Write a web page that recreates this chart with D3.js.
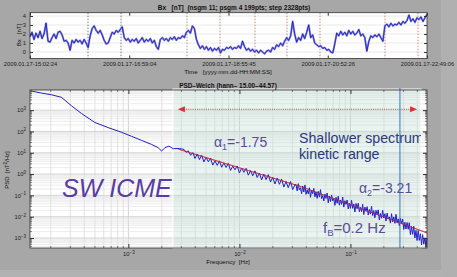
<!DOCTYPE html>
<html>
<head>
<meta charset="utf-8">
<script src="https://cdn.jsdelivr.net/npm/d3@7/dist/d3.min.js"></script>
<style>
  body { margin: 0; background: #a7a7a7; }
  svg { display: block; font-family: "Liberation Sans", Arial, sans-serif; }
  .tick line { stroke: #333; }
  .tick text { fill: #222; font-size: 5.8px; }
</style>
</head>
<body>
<svg id="chart" width="457" height="277"></svg>
<script>
// ---- top panel: Bx time series ----
var bxStart = "2009.01.17-15:02:24";
var bxStepSec = 141.42;   // 199 samples over the interval
var bxTickLabels = ["2009.01.17-15:02:24", "2009.01.17-16:59:04", "2009.01.17-18:55:45",
                    "2009.01.17-20:52:26", "2009.01.17-22:49:06"];
var bxYTicks = [0, 1, 2, 3, 4];
var bxRange = [-0.72, 4.37];
var bxValues = [
  1.7, 2.2, 1.4, 2.1, 1.6, 2.3, 1.5, 2.0, 3.2, 1.2,
  1.1, 1.6, 2.0, 1.5, 2.2, 2.3, 1.9, 1.2, 1.3, 1.0,
  0.2, 1.3, 1.0, 1.4, 1.1, 1.3, 0.9, 1.4, 1.0, 0.5,
  1.8, 2.6, 2.9, 2.4, 2.1, 2.4, 1.9, 1.3, 0.9, 1.0,
  1.6, 2.2, 2.0, 2.4, 2.2, 2.5, 2.8, 1.6, 1.3, 1.5,
  1.1, 1.4, 1.2, 1.5, 1.0, 1.3, 1.6, 1.1, 1.4, 1.2,
  1.5, 1.0, 1.3, 0.6, 0.3, 1.4, 1.6, 1.3, 1.5, 1.2,
  1.6, 1.4, 1.7, 1.3, 1.6, 1.5, 1.8, 1.6, 2.2, 2.4,
  2.1, 2.9, 2.6, 1.4, 0.8, 0.4, 0.7, 0.3, 0.6, 0.2,
  0.5, 0.1, 0.4, 0.2, 0.5, -0.1, 0.3, 0.2, 0.5, 0.4,
  0.6, 0.3, 0.5, 0.4, 0.7, 0.4, 1.2, 0.6, 0.2, 0.4,
  0.1, 0.3, 0.0, 0.2, -0.1, 0.2, 0.0, -0.2, 0.1, 0.2,
  0.0, 0.5, 0.3, 0.8, 0.6, 1.0, 0.7, 1.2, 1.6, 1.3,
  1.8, 3.4, 2.0, 1.1, 1.6, 1.3, 2.0, 1.5, 2.2, 3.0,
  1.6, 1.9, 1.0, 0.8, 0.6, 0.7, 0.4, 0.5, 0.2, 0.3,
  0.0, -0.1, 0.9, 2.1, 1.8, 2.3, 1.9, 2.2, 1.8, 2.4,
  2.0, 2.3, 1.9, 2.1, 2.5, 1.8, 2.0, 1.6, 0.1, 1.2,
  1.8, 1.6, 1.9, 1.7, 2.0, 1.6, 1.2, 2.9, 3.1, 2.8,
  3.2, 2.9, 3.1, 3.0, 3.3, 3.0, 3.4, 3.2, 3.5, 4.1,
  3.4, 3.7, 3.3, 3.8, 3.6, 3.9, 3.4, 3.8, 4.2
];
var markerDark = ["2009.01.17-16:10:35", "2009.01.17-16:49:23"];
var markerRed = ["2009.01.17-18:06:58", "2009.01.17-18:45:46", "2009.01.17-19:26:54",
                 "2009.01.17-20:04:30", "2009.01.17-20:43:18", "2009.01.17-21:59:42",
                 "2009.01.17-22:38:30"];

// ---- bottom panel: Welch PSD, log10 of frequency [Hz] and of power [nT^2/Hz] ----
var psdFreqExp = [
  -3.887, -3.782, -3.692, -3.602, -3.512, -3.422, -3.302, -3.182, -3.061, -2.971,
  -2.881, -2.791, -2.732, -2.701, -2.671, -2.635, -2.596,
  -2.54, -2.52, -2.50, -2.48, -2.46, -2.44, -2.42, -2.40, -2.38, -2.36,
  -2.34, -2.32, -2.30, -2.28, -2.26, -2.24, -2.22, -2.20, -2.18, -2.16,
  -2.14, -2.12, -2.10, -2.08, -2.06, -2.04, -2.02, -2.00, -1.98, -1.96,
  -1.94, -1.92, -1.90, -1.88, -1.86, -1.84, -1.82, -1.80, -1.78, -1.76,
  -1.74, -1.72, -1.70, -1.68, -1.66, -1.64, -1.62, -1.60, -1.58, -1.56,
  -1.54, -1.52, -1.50,
  -1.49, -1.48, -1.47, -1.46, -1.45, -1.44, -1.43, -1.42, -1.41, -1.40,
  -1.39, -1.38, -1.37, -1.36, -1.35, -1.34, -1.33, -1.32, -1.31, -1.30,
  -1.29, -1.28, -1.27, -1.26, -1.25, -1.24, -1.23, -1.22, -1.21, -1.20,
  -1.19, -1.18, -1.17, -1.16, -1.15, -1.14, -1.13, -1.12, -1.11, -1.10,
  -1.09, -1.08, -1.07, -1.06, -1.05, -1.04, -1.03, -1.02, -1.01, -1.00,
  -0.99, -0.98, -0.97, -0.96, -0.95, -0.94, -0.93, -0.92, -0.91, -0.90,
  -0.89, -0.88, -0.87, -0.86, -0.85, -0.84, -0.83, -0.82, -0.81, -0.80,
  -0.79, -0.78, -0.77, -0.76, -0.75, -0.74, -0.73, -0.72, -0.71, -0.70,
  -0.69, -0.68, -0.67, -0.66, -0.65, -0.64, -0.63, -0.62, -0.61, -0.60,
  -0.59, -0.58, -0.57, -0.56, -0.55, -0.54, -0.53, -0.52, -0.51, -0.50,
  -0.49, -0.48, -0.47, -0.46, -0.45, -0.44, -0.43, -0.42, -0.41, -0.40,
  -0.39, -0.38, -0.37, -0.36, -0.35, -0.34, -0.33, -0.32, -0.31
];
var psdPowerExp = [
  3.91, 3.80, 3.72, 3.60, 3.20, 2.84, 2.42, 2.18, 1.96, 1.77,
  1.58, 1.39, 1.24, 1.08, 1.24, 1.31, 1.19,
  1.20, 1.18, 1.16, 1.02, 1.09, 0.88, 1.01, 0.73, 0.94, 0.68,
  0.89, 0.57, 0.78, 0.58, 0.74, 0.42, 0.62, 0.41, 0.62, 0.32,
  0.52, 0.31, 0.50, 0.17, 0.37, 0.20, 0.38, 0.05, 0.28, 0.08,
  0.27, -0.05, 0.16, -0.08, 0.15, -0.16, 0.04, -0.27, 0.00, -0.26,
  -0.03, -0.37, -0.16, -0.46, -0.19, -0.48, -0.24, -0.61, -0.35, -0.64,
  -0.35, -0.73, -0.50,
  -0.50, -0.79, -0.45, -0.75, -0.64, -0.92, -0.56, -0.84, -0.51, -0.95,
  -0.75, -0.93, -0.64, -1.09, -0.76, -0.92, -0.67, -1.07, -0.84, -1.14,
  -0.81, -1.08, -0.73, -1.15, -1.01, -1.26, -0.94, -1.14, -0.89, -1.35,
  -1.03, -1.29, -0.98, -1.26, -1.14, -1.47, -1.09, -1.37, -1.04, -1.46,
  -1.22, -1.42, -1.08, -1.55, -1.25, -1.42, -1.22, -1.64, -1.37, -1.61,
  -1.23, -1.61, -1.40, -1.78, -1.38, -1.63, -1.37, -1.77, -1.56, -1.76,
  -1.42, -1.90, -1.55, -1.75, -1.53, -1.92, -1.66, -1.88, -1.51, -1.95,
  -1.71, -2.05, -1.70, -1.90, -1.68, -2.15, -1.85, -2.07, -1.70, -2.06,
  -1.86, -2.20, -1.83, -2.11, -2.01, -2.30, -1.86, -2.24, -2.01, -2.31,
  -1.89, -2.29, -2.10, -2.42, -2.08, -2.33, -2.11, -2.60, -2.26, -2.58,
  -2.27, -2.59, -2.28, -2.84, -2.46, -2.83, -2.45, -3.00, -2.64, -3.12,
  -2.65, -3.11, -2.80, -3.32, -2.84, -3.29, -2.99, -3.45, -3.00
];
var fitFreqExp = [-2.55, -1.45, -0.31];
var fitPowerExp = [1.17, -0.58, -2.76];
var psdFreqDomain = [1.3e-4, 0.489];
var psdPowerDomain = [3.4e-4, 8800];
var psdFreqTicks = [1e-3, 1e-2, 1e-1];
var psdPowerTicks = [1e-3, 1e-2, 1e-1, 1, 10, 100, 1000];
var kineticBand = [0.00252, 0.432];
var arrowSpan = [0.00279, 0.398];
var arrowLevel = 1100;
var breakFreq = 0.279;

var g = { svg: d3.select("#chart"), width: 457, height: 277 };
var T = { left: 30, right: 427, top: 12.7, bottom: 58.5 };
var P = { left: 30, right: 427, top: 90, bottom: 248 };

g.svg.append("rect").attr("width", g.width).attr("height", g.height).attr("fill", "#a7a7a7");
g.svg.append("rect").attr("x", 441).attr("width", 16).attr("height", g.height).attr("fill", "#b0b0b0");
g.svg.append("rect").attr("y", 270).attr("width", 441).attr("height", 7).attr("fill", "#b2b2b2");

// ================= top panel =================
var parseT = d3.timeParse("%Y.%m.%d-%H:%M:%S");
var fmtT = d3.timeFormat("%Y.%m.%d-%H:%M:%S");
var t0 = parseT(bxStart);
var bx = bxValues.map(function(v, i) { return { t: new Date(t0.getTime() + i * bxStepSec * 1000), v: v }; });
var bxTicks = bxTickLabels.map(parseT);

var xT = d3.scaleTime().domain([t0, bxTicks[bxTicks.length - 1]]).range([T.left, T.right]);
var yT = d3.scaleLinear().domain(bxRange).range([T.bottom, T.top]);

var upper = g.svg.append("g");
upper.append("rect").attr("x", T.left).attr("y", T.top)
    .attr("width", T.right - T.left).attr("height", T.bottom - T.top).attr("fill", "#fff");

upper.selectAll(".hgrid").data(bxYTicks).enter().append("line")
    .attr("x1", T.left).attr("x2", T.right)
    .attr("y1", function(d) { return yT(d); }).attr("y2", function(d) { return yT(d); })
    .attr("stroke", "#e0e0e0").attr("stroke-width", 0.7);

function markers(list, color) {
  upper.selectAll(null).data(list.map(parseT)).enter().append("line")
      .attr("x1", function(d) { return xT(d); }).attr("x2", function(d) { return xT(d); })
      .attr("y1", T.top).attr("y2", T.bottom)
      .attr("stroke", color).attr("stroke-width", 0.8).attr("stroke-dasharray", "1.5,1.5");
}
markers(markerDark, "#555");
markers(markerRed, "#b0705a");

var bxLine = d3.line().x(function(d) { return xT(d.t); }).y(function(d) { return yT(d.v); });
upper.append("path").datum(bx).attr("d", bxLine)
    .attr("fill", "none").attr("stroke", "#8585ea").attr("stroke-width", 2).attr("stroke-linejoin", "round");
upper.append("path").datum(bx).attr("d", bxLine)
    .attr("fill", "none").attr("stroke", "#1616aa").attr("stroke-width", 0.8).attr("stroke-linejoin", "round");

upper.append("rect").attr("x", T.left).attr("y", T.top)
    .attr("width", T.right - T.left).attr("height", T.bottom - T.top)
    .attr("fill", "none").attr("stroke", "#333").attr("stroke-width", 0.8);

upper.append("g").attr("transform", "translate(0," + T.bottom + ")")
    .call(d3.axisBottom(xT).tickValues(bxTicks).tickFormat(fmtT).tickSize(-3).tickPadding(3));
upper.append("g").attr("transform", "translate(0," + T.top + ")")
    .call(d3.axisTop(xT).tickValues(bxTicks).tickFormat("").tickSize(-3));
upper.append("g").attr("transform", "translate(" + T.left + ",0)")
    .call(d3.axisLeft(yT).tickValues(bxYTicks).tickFormat(d3.format("d")).tickSize(-3).tickPadding(4));
upper.append("g").attr("transform", "translate(" + T.right + ",0)")
    .call(d3.axisRight(yT).tickValues(bxYTicks).tickFormat("").tickSize(-3));
upper.selectAll(".domain").remove();

upper.append("text").attr("x", 234).attr("y", 9.5).attr("text-anchor", "middle")
    .attr("font-size", 6.5).attr("font-weight", "bold").attr("fill", "#111")
    .attr("xml:space", "preserve")
    .text("Bx   [nT]  (nsgm 11; psgm 4 199pts; step 2328pts)");
upper.append("text").attr("x", 228).attr("y", 73.5).attr("text-anchor", "middle")
    .attr("font-size", 6.2).attr("fill", "#111").attr("xml:space", "preserve")
    .text("Time   [yyyy.mm.dd-HH:MM:SS]");
upper.append("text").attr("transform", "translate(21,35) rotate(-90)").attr("text-anchor", "middle")
    .attr("font-size", 6).attr("fill", "#111").attr("xml:space", "preserve").text("Bx   [nT]");

// ================= bottom panel =================
var xF = d3.scaleLog().domain(psdFreqDomain).range([P.left, P.right]);
var yP = d3.scaleLog().domain(psdPowerDomain).range([P.bottom, P.top]);

var bot = g.svg.append("g");
bot.append("rect").attr("x", P.left).attr("y", P.top)
    .attr("width", P.right - P.left).attr("height", P.bottom - P.top).attr("fill", "#fff");

// log grids: 1..9 x each decade inside the domain
function logSteps(domain) {
  var out = [];
  var lo = Math.floor(Math.log10(domain[0])), hi = Math.ceil(Math.log10(domain[1]));
  for (var k = lo; k <= hi; k++) {
    for (var m = 1; m <= 9; m++) {
      var v = m * Math.pow(10, k);
      if (v >= domain[0] && v <= domain[1]) out.push({ v: v, major: m === 1 });
    }
  }
  return out;
}
var fGrid = logSteps(psdFreqDomain), pGrid = logSteps(psdPowerDomain);

bot.selectAll(".vgrid").data(fGrid).enter().append("line")
    .attr("x1", function(d) { return xF(d.v); }).attr("x2", function(d) { return xF(d.v); })
    .attr("y1", P.top).attr("y2", P.bottom)
    .attr("stroke", function(d) { return d.major ? "#bdbdbd" : "#d6d6d6"; }).attr("stroke-width", 0.7);
bot.selectAll(".hgrid").data(pGrid).enter().append("line")
    .attr("x1", P.left).attr("x2", P.right)
    .attr("y1", function(d) { return yP(d.v); }).attr("y2", function(d) { return yP(d.v); })
    .attr("stroke", function(d) { return d.major ? "#c4c4c4" : "#e2e2e2"; }).attr("stroke-width", 0.7);

bot.append("text").attr("x", 62).attr("y", 197)
    .attr("font-size", 25).attr("font-style", "italic").attr("fill", "#5a3aa6").text("SW ICME");

// highlighted kinetic range box
var bandX0 = xF(kineticBand[0]), bandX1 = xF(kineticBand[1]);
bot.append("rect").attr("x", bandX0).attr("y", P.top - 1)
    .attr("width", bandX1 - bandX0).attr("height", P.bottom - P.top + 1)
    .attr("fill", "#bcdcd4").attr("fill-opacity", 0.32)
    .attr("stroke", "#fff").attr("stroke-width", 1);
g.svg.append("clipPath").attr("id", "bandclip").append("rect")
    .attr("x", bandX0).attr("y", P.top).attr("width", bandX1 - bandX0).attr("height", P.bottom - P.top);

// red dotted double arrow
var ay = yP(arrowLevel), ax0 = xF(arrowSpan[0]), ax1 = xF(arrowSpan[1]);
bot.append("line").attr("x1", ax0 + 6).attr("x2", ax1 - 6).attr("y1", ay).attr("y2", ay)
    .attr("stroke", "#e03a3a").attr("stroke-width", 1.2).attr("stroke-dasharray", "1,1.2");
bot.append("path").attr("d", "M" + ax0 + "," + ay + "l7,-3l0,6z").attr("fill", "#e03030");
bot.append("path").attr("d", "M" + ax1 + "," + ay + "l-7,-3l0,6z").attr("fill", "#e03030");

var psd = psdFreqExp.map(function(f, i) { return [Math.pow(10, f), Math.pow(10, psdPowerExp[i])]; });
var fit = fitFreqExp.map(function(f, i) { return [Math.pow(10, f), Math.pow(10, fitPowerExp[i])]; });
var psdLine = d3.line().x(function(d) { return xF(d[0]); }).y(function(d) { return yP(d[1]); });

bot.append("path").datum(fit).attr("d", psdLine)
    .attr("fill", "none").attr("stroke", "#d83a3a").attr("stroke-width", 1);
bot.append("path").datum(psd).attr("d", psdLine)
    .attr("fill", "none").attr("stroke", "#1f1fcc").attr("stroke-width", 1).attr("stroke-linejoin", "round");
bot.append("path").datum(fit).attr("d", psdLine)
    .attr("fill", "none").attr("stroke", "#d83a3a").attr("stroke-width", 0.7).attr("stroke-opacity", 0.8);

bot.append("line").attr("x1", xF(breakFreq)).attr("x2", xF(breakFreq))
    .attr("y1", P.top - 2).attr("y2", P.bottom)
    .attr("stroke", "#3272b4").attr("stroke-width", 1);

// annotations
function alpha(x, y, sub, rest) {
  var t = bot.append("text").attr("x", x).attr("y", y).attr("font-size", 14).attr("fill", "#5a4a9c");
  t.append("tspan").text("\u03b1");
  t.append("tspan").attr("font-size", 9).attr("dy", 3).text(sub);
  t.append("tspan").attr("dy", -3).text(rest);
}
alpha(214, 147, "1", "=-1.75");
alpha(359, 193, "2", "=-3.21");

var fb = bot.append("text").attr("x", 323).attr("y", 233).attr("font-size", 15).attr("fill", "#5a4a9c");
fb.append("tspan").text("f");
fb.append("tspan").attr("font-size", 9.5).attr("dy", 3).text("B");
fb.append("tspan").attr("dy", -3).text("=0.2 Hz");

var note = bot.append("g").attr("clip-path", "url(#bandclip)");
note.append("text").attr("x", 299).attr("y", 143).attr("font-size", 14.2).attr("fill", "#2a3880").text("Shallower spectrum");
note.append("text").attr("x", 299).attr("y", 159).attr("font-size", 14.2).attr("fill", "#2a3880").text("kinetic range");

bot.append("rect").attr("x", P.left).attr("y", P.top)
    .attr("width", P.right - P.left).attr("height", P.bottom - P.top)
    .attr("fill", "none").attr("stroke", "#333").attr("stroke-width", 0.8);

// ticks on all four sides, major with labels, minor short
function minorTicks(grid, scale, horizontal, pos, dir) {
  bot.selectAll(null).data(grid.filter(function(d) { return !d.major; })).enter().append("line")
      .attr(horizontal ? "x1" : "y1", function(d) { return scale(d.v); })
      .attr(horizontal ? "x2" : "y2", function(d) { return scale(d.v); })
      .attr(horizontal ? "y1" : "x1", pos).attr(horizontal ? "y2" : "x2", pos + dir * 2)
      .attr("stroke", "#333").attr("stroke-width", 0.6);
}
minorTicks(fGrid, xF, true, P.bottom, -1);
minorTicks(fGrid, xF, true, P.top, 1);
minorTicks(pGrid, yP, false, P.left, 1);
minorTicks(pGrid, yP, false, P.right, -1);

function pow10(sel, d) {
  var e = Math.round(Math.log10(d));
  sel.text(null);
  sel.append("tspan").text("10");
  sel.append("tspan").attr("dy", -2.5).attr("font-size", 4.5).text(e === 0 ? "0" : String(e).replace("-", "\u2212"));
}
var bAxB = bot.append("g").attr("transform", "translate(0," + P.bottom + ")")
    .call(d3.axisBottom(xF).tickValues(psdFreqTicks).tickSize(-4).tickPadding(4));
bAxB.selectAll(".tick text").each(function(d) { pow10(d3.select(this), d); });
bot.append("g").attr("transform", "translate(0," + P.top + ")")
    .call(d3.axisTop(xF).tickValues(psdFreqTicks).tickFormat("").tickSize(-4));
var bAxL = bot.append("g").attr("transform", "translate(" + P.left + ",0)")
    .call(d3.axisLeft(yP).tickValues(psdPowerTicks).tickSize(-4).tickPadding(4));
bAxL.selectAll(".tick text").each(function(d) { pow10(d3.select(this), d); });
bot.append("g").attr("transform", "translate(" + P.right + ",0)")
    .call(d3.axisRight(yP).tickValues(psdPowerTicks).tickFormat("").tickSize(-4));
bot.selectAll(".domain").remove();

bot.append("text").attr("x", 228).attr("y", 87.5).attr("text-anchor", "middle")
    .attr("font-size", 6.4).attr("font-weight", "bold").attr("fill", "#111")
    .text("PSD\u2013Welch (hann\u2013 15.00\u201344.57)");
bot.append("text").attr("x", 228).attr("y", 264).attr("text-anchor", "middle")
    .attr("font-size", 6.2).attr("fill", "#111").attr("xml:space", "preserve").text("Frequency  [Hz]");
var yl = bot.append("text").attr("transform", "translate(9,170) rotate(-90)").attr("text-anchor", "middle")
    .attr("font-size", 6).attr("fill", "#111").attr("xml:space", "preserve");
yl.append("tspan").text("PSD  [nT");
yl.append("tspan").attr("font-size", 4.5).attr("dy", -2).text("2");
yl.append("tspan").attr("dy", 2).text("/Hz]");
</script>
</body>
</html>
